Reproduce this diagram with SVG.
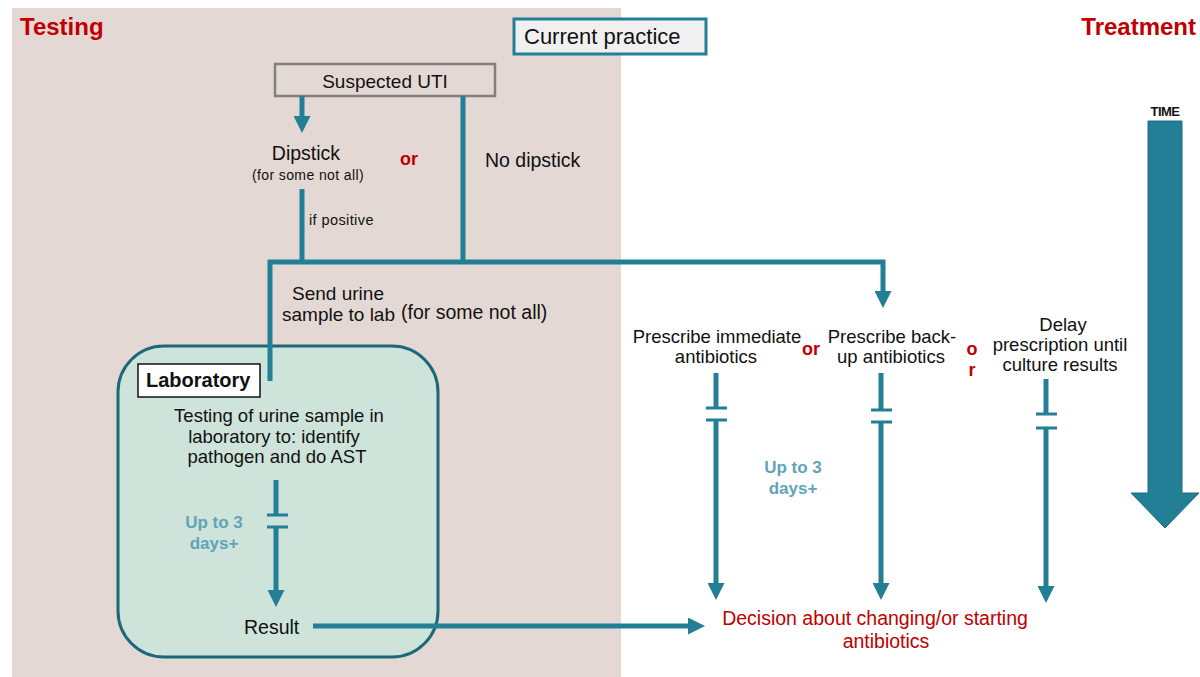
<svg xmlns="http://www.w3.org/2000/svg" width="1200" height="677" viewBox="0 0 1200 677">
<style>
  text { font-family: "Liberation Sans", Arial, sans-serif; fill: #111; }
  .b { font-size: 19.5px; }
  .m { font-size: 18.5px; }
  .s { font-size: 14px; letter-spacing: 0.4px; }
  .red { fill: #C00000; font-weight: bold; }
  .or { fill: #C00000; font-weight: bold; font-size: 18px; }
  .days { fill: #5FA5B8; font-weight: bold; font-size: 17px; }
  .c { text-anchor: middle; }
  .ln { fill: none; stroke: #237F95; stroke-width: 5; stroke-linejoin: miter; }
  .bar { fill: none; stroke: #237F95; stroke-width: 3; }
  .arr { fill: none; stroke: #237F95; stroke-width: 5; marker-end: url(#ah); }
</style>
<defs>
  <marker id="ah" markerUnits="userSpaceOnUse" markerWidth="17" markerHeight="17" viewBox="0 0 17 17" refX="1" refY="8.5" orient="auto">
    <path d="M0,0 L17,8.5 L0,17 z" fill="#237F95"/>
  </marker>
</defs>

<rect x="12" y="8" width="609" height="669" fill="#E4D8D4"/>
<text x="20" y="35" class="red" style="font-size:24px">Testing</text>
<text x="1196" y="35" class="red" style="font-size:24px" text-anchor="end">Treatment</text>

<g id="current-practice">
  <rect x="514" y="19" width="192" height="35" fill="#F0F0F0" stroke="#237F95" stroke-width="3"/>
  <text x="524" y="44" style="font-size:22px">Current practice</text>
</g>

<g id="time">
  <text x="1165" y="116" class="c" style="font-size:13px;font-weight:bold;letter-spacing:-0.5px">TIME</text>
  <path d="M1148,121 H1182 V493 H1199 L1165,528 L1131,493 H1148 z" fill="#237F95" stroke="#1E6B7E" stroke-width="1"/>
</g>

<g id="suspected-uti">
  <rect x="275" y="64" width="220" height="32" fill="#E4D8D4" stroke="#808080" stroke-width="2.5"/>
  <text x="385" y="88" class="c" style="font-size:19px">Suspected UTI</text>
</g>

<g id="dipstick">
  <text x="306" y="160" class="c b">Dipstick</text>
  <text x="308" y="180" class="c s">(for some not all)</text>
</g>
<text x="409" y="165" class="or c">or</text>
<g id="no-dipstick">
  <text x="485" y="167" class="b">No dipstick</text>
</g>
<text x="309" y="225" class="s" style="font-size:14.5px">if positive</text>

<g id="send-urine">
  <text x="338" y="300" class="c" style="font-size:19px">Send urine</text>
  <text x="282" y="321" style="font-size:19px">sample to lab</text>
  <text x="401" y="319" style="font-size:19.5px">(for some not all)</text>
</g>

<g id="laboratory">
  <rect x="118" y="346" width="320" height="311" rx="46" ry="46" fill="#CEE3DA" stroke="#1D6878" stroke-width="3"/>
  <rect x="138" y="364" width="122" height="33" fill="#FFFFFF" stroke="#111" stroke-width="1.5"/>
  <text x="146" y="387" style="font-size:20px;font-weight:bold">Laboratory</text>
  <text x="279" y="422" class="c m">Testing of urine sample in</text>
  <text x="274" y="443" class="c m">laboratory to: identify</text>
  <text x="277" y="463" class="c m">pathogen and do AST</text>
  <text x="214" y="528" class="c days">Up to 3</text>
  <text x="214" y="549" class="c days">days+</text>
  <text x="244" y="634" class="b">Result</text>
</g>

<g id="prescribe-immediate">
  <text x="717" y="343" class="c m">Prescribe immediate</text>
  <text x="716" y="363" class="c m">antibiotics</text>
</g>
<text x="811" y="355" class="or c">or</text>
<g id="prescribe-backup">
  <text x="892" y="343" class="c m">Prescribe back-</text>
  <text x="891" y="363" class="c m">up antibiotics</text>
</g>
<text x="972" y="355" class="or c">o</text>
<text x="972" y="376" class="or c">r</text>
<g id="delay">
  <text x="1063" y="331" class="c m">Delay</text>
  <text x="1060" y="351" class="c m">prescription until</text>
  <text x="1060" y="371" class="c m">culture results</text>
</g>
<text x="793" y="473" class="c days">Up to 3</text>
<text x="793" y="494" class="c days">days+</text>

<g id="decision">
  <text x="875" y="625" class="c" style="font-size:19.5px;fill:#C00000">Decision about changing/or starting</text>
  <text x="886" y="648" class="c" style="font-size:19.5px;fill:#C00000">antibiotics</text>
</g>

<g id="connectors">
  <path class="arr" d="M302,96 V117"/>
  <path class="ln" d="M463,96 V262"/>
  <path class="ln" d="M302,189 V262"/>
  <path class="arr" d="M270,381 V262 H883 V292"/>
  <path class="ln" d="M276,480 V515"/>
  <path class="bar" d="M267,515 H288 M267,527 H288"/>
  <path class="arr" d="M276,527 V591"/>
  <path class="arr" d="M313,626 H689"/>
  <path class="ln" d="M716,373 V408"/>
  <path class="bar" d="M706,408 H727 M706,420 H727"/>
  <path class="arr" d="M716,420 V584"/>
  <path class="ln" d="M881,373 V410"/>
  <path class="bar" d="M871,410 H892 M871,422 H892"/>
  <path class="arr" d="M881,422 V584"/>
  <path class="ln" d="M1046,379 V414"/>
  <path class="bar" d="M1036,414 H1057 M1036,428 H1057"/>
  <path class="arr" d="M1046,428 V587"/>
</g>
</svg>
